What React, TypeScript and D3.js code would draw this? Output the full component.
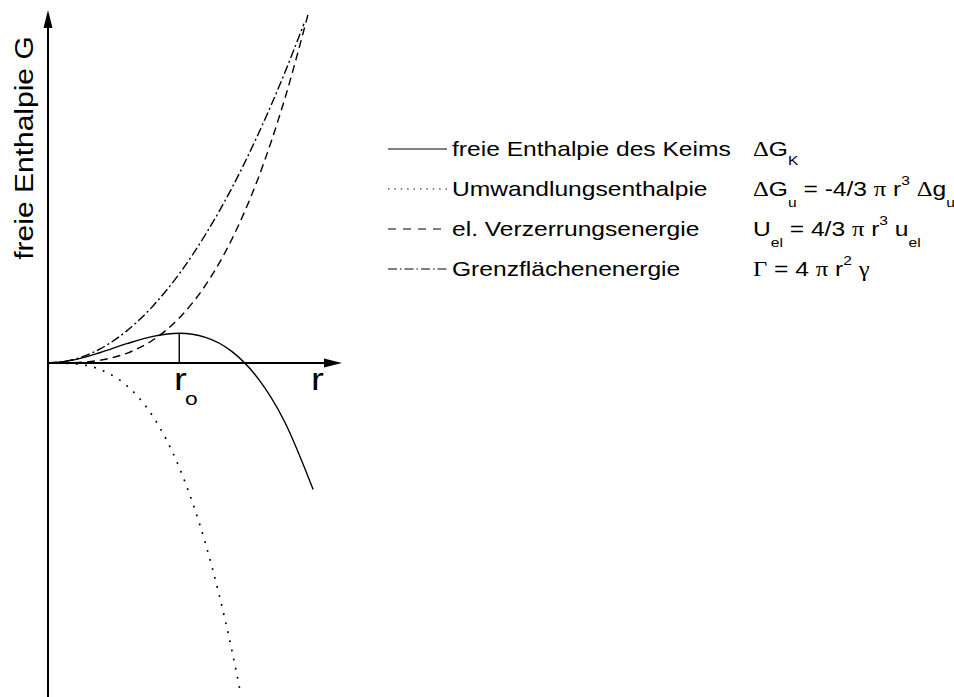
import React from "react";
import * as d3 from "d3";

// Nucleation energy terms over the nucleus radius r (r0 = 1), free enthalpy G in arbitrary units
const rKeim = [0, 0.2, 0.4, 0.6, 0.8, 1.0, 1.2, 1.4, 1.6, 1.8, 2.02];
const gKeim = [0, 0.31, 1.05, 1.93, 2.66, 2.97, 2.56, 1.16, -1.54, -5.8, -12.65];

const rUmw = [0, 0.2, 0.4, 0.6, 0.8, 1.0, 1.2, 1.4, 1.47];
const gUmw = [0, -0.08, -0.67, -2.26, -5.35, -10.45, -18.06, -28.68, -33.19];

const rVerz = [0, 0.2, 0.4, 0.6, 0.8, 1.0, 1.2, 1.4, 1.6, 1.8, 1.98];
const gVerz = [0, 0.04, 0.29, 0.97, 2.3, 4.5, 7.78, 12.35, 18.43, 26.24, 34.8];

const rGrenz = [0, 0.2, 0.4, 0.6, 0.8, 1.0, 1.2, 1.4, 1.6, 1.8, 1.95];
const gGrenz = [0, 0.36, 1.43, 3.21, 5.71, 8.92, 12.85, 17.48, 22.84, 28.9, 33.92];

const rCrit = 1.0;
const gCrit = 2.97;

const legendLabels = [
  "freie Enthalpie des Keims",
  "Umwandlungsenthalpie",
  "el. Verzerrungsenergie",
  "Grenzflächenenergie",
];

const W = 954;
const H = 697;
const SANS = "'Liberation Sans', Arial, Helvetica, sans-serif";
const SERIF = "'Liberation Serif', 'Times New Roman', serif";

const x = d3.scaleLinear().domain([0, 2.24]).range([48, 342]);
const y = d3.scaleLinear().domain([-33.1, 35.3]).range([694, 10]);

const toPts = (rs: number[], gs: number[]) => rs.map((r, i) => [r, gs[i]] as [number, number]);

const line = d3
  .line<[number, number]>()
  .x((d) => x(d[0]))
  .y((d) => y(d[1]))
  .curve(d3.curveMonotoneX);

const series = [
  { pts: toPts(rKeim, gKeim), dash: undefined as string | undefined, legendDash: undefined as string | undefined, w: 1.4 },
  { pts: toPts(rUmw, gUmw), dash: "1.8 7.5", legendDash: "1.4 5", w: 1.7 },
  { pts: toPts(rVerz, gVerz), dash: "8 5", legendDash: "8 7", w: 1.4 },
  { pts: toPts(rGrenz, gGrenz), dash: "9 3 2 3", legendDash: "9 3 1.5 3", w: 1.4 },
];

const legendX0 = 388;
const legendX1 = 447;
const legendTextX = 452;
const formulaX = 753;
const rowBase = [156, 196, 236, 276];

const SX = 1.2;

function Sub({ children, dy = 9 }: { children: React.ReactNode; dy?: number }) {
  return (
    <tspan fontSize={13} dy={dy}>
      {children}
    </tspan>
  );
}

export default function App() {
  const x0 = x(0);
  const y0 = y(0);
  const xEnd = x(2.24);
  const yTop = y(35.3);

  const formulas = [
    <>
      <tspan fontFamily={SERIF}>Δ</tspan>G<Sub>K</Sub>
    </>,
    <>
      <tspan fontFamily={SERIF}>Δ</tspan>G<Sub dy={11}>u</Sub>
      <tspan dy={-11}> = -4/3 </tspan>
      <tspan fontFamily={SERIF}>π</tspan> r<Sub dy={-11}>3</Sub>
      <tspan dy={11}> </tspan>
      <tspan fontFamily={SERIF}>Δ</tspan>g<Sub dy={11}>u</Sub>
    </>,
    <>
      U<Sub dy={11}>el</Sub>
      <tspan dy={-11}> = 4/3 </tspan>
      <tspan fontFamily={SERIF}>π</tspan> r<Sub dy={-11}>3</Sub>
      <tspan dy={11}> u</tspan>
      <Sub dy={11}>el</Sub>
    </>,
    <>
      <tspan fontFamily={SERIF}>Γ</tspan> = 4 <tspan fontFamily={SERIF}>π</tspan> r<Sub dy={-11}>2</Sub>
      <tspan dy={11}> </tspan>
      <tspan fontFamily={SERIF}>γ</tspan>
    </>,
  ];

  return (
    <svg
      width={W}
      height={H}
      viewBox={`0 0 ${W} ${H}`}
      style={{ position: "absolute", left: 0, top: 0, background: "#fff" }}
    >
      <rect width={W} height={H} fill="#fff" />

      {/* axes */}
      <g stroke="#000" fill="#000">
        <line x1={x0} y1={697} x2={x0} y2={yTop + 17} strokeWidth={2} />
        <polygon points={`${x0},${yTop} ${x0 - 4.5},${yTop + 18} ${x0 + 4.5},${yTop + 18}`} stroke="none" />
        <line x1={x0} y1={y0} x2={xEnd - 17} y2={y0} strokeWidth={2} />
        <polygon points={`${xEnd},${y0} ${xEnd - 18},${y0 - 4.5} ${xEnd - 18},${y0 + 4.5}`} stroke="none" />
      </g>

      {/* curves */}
      <g fill="none" stroke="#000">
        {series.map((s, i) => (
          <path key={i} d={line(s.pts) || ""} strokeDasharray={s.dash} strokeWidth={s.w} />
        ))}
        <line x1={x(rCrit)} y1={y0} x2={x(rCrit)} y2={y(gCrit)} strokeWidth={1.4} />
      </g>

      {/* axis labels */}
      <text
        transform={`translate(33,148) rotate(-90) scale(${SX},1)`}
        textAnchor="middle"
        fontFamily={SANS}
        fontSize={25}
      >
        freie Enthalpie G
      </text>
      <text transform={`translate(311,390) scale(${SX},1)`} fontFamily={SANS} fontSize={32}>
        r
      </text>
      <text transform={`translate(174,390) scale(${SX},1)`} fontFamily={SANS} fontSize={32}>
        r
      </text>
      <text transform={`translate(185,405) scale(${SX},1)`} fontFamily={SANS} fontSize={19}>
        o
      </text>

      {/* legend */}
      {series.map((s, i) => (
        <g key={i}>
          <line
            x1={legendX0}
            x2={legendX1}
            y1={rowBase[i] - 7}
            y2={rowBase[i] - 7}
            stroke="#000"
            strokeWidth={1.2}
            strokeDasharray={s.legendDash}
          />
          <text
            transform={`translate(${legendTextX},${rowBase[i]}) scale(${SX},1)`}
            fontFamily={SANS}
            fontSize={20.5}
          >
            {legendLabels[i]}
          </text>
          <text
            transform={`translate(${formulaX},${rowBase[i]}) scale(${SX},1)`}
            fontFamily={SANS}
            fontSize={20.5}
          >
            {formulas[i]}
          </text>
        </g>
      ))}
    </svg>
  );
}
